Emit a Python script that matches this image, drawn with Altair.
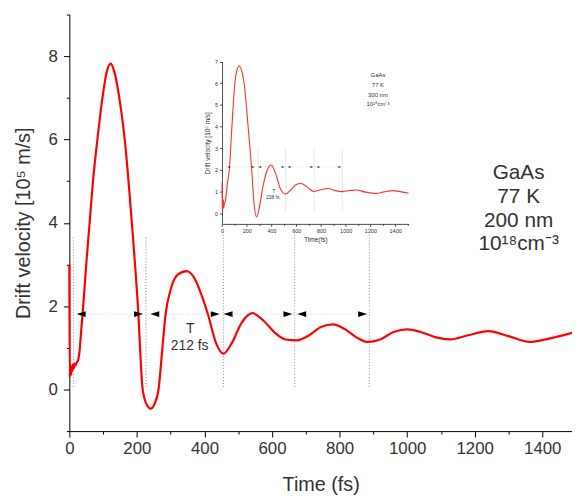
import altair as alt
import pandas as pd

FONT = "Liberation Sans"
TXT = "#333333"

# ---------------- main chart data ----------------
main_t = [0, 1, 3, 5, 7, 9, 11, 13, 16, 19, 22, 26, 30, 34, 39, 41, 50, 60, 70, 83, 98, 110, 122,
          134, 148, 164, 185, 203, 217, 230, 241, 252, 264, 275, 285, 300, 320, 347, 375, 392, 410,
          435, 456, 480, 510, 542, 575, 610, 640, 674, 710, 745, 781, 815, 850, 884, 920, 960,
          1001, 1040, 1085, 1128, 1180, 1240, 1300, 1362, 1420, 1488]
main_v = [3.0, 0.3, 0.6, 0.35, 0.55, 0.45, 0.6, 0.5, 0.62, 0.58, 0.65, 0.7, 0.9, 1.3, 1.81, 2.0, 3.0, 4.0, 5.0, 6.0, 7.0, 7.6, 7.82,
          7.6, 7.0, 6.0, 4.0, 2.0, 0.0, -0.38, -0.46, -0.35, 0.0, 0.95, 1.81, 2.4, 2.75, 2.84, 2.6, 2.25, 1.81,
          1.1, 0.86, 1.1, 1.6, 1.83, 1.65, 1.35, 1.2, 1.18, 1.3, 1.5, 1.56, 1.45, 1.25, 1.14, 1.2, 1.38,
          1.44, 1.38, 1.25, 1.20, 1.3, 1.40, 1.28, 1.14, 1.22, 1.36]

period_lines_t = [12, 227, 456, 667, 888]
period_lines_top = [3.65, 3.65, 3.8, 3.8, 3.8]
period_lines_bottom = [0.06, 0.06, 0.06, 0.06, 0.06]
guide_level = 1.81
arrow_left_t = [35, 253, 470, 688]
arrow_right_t = [205, 432, 647, 868]
period_label = ["T", "212 fs"]
period_label_t = [358, 356]
period_label_v = [1.46, 1.03]
info_lines = ["GaAs", "77 K", "200 nm", "10\u00b9\u2078cm\u207b\u00b3"]
info_t = [1330, 1330, 1330, 1330]
info_v = [5.19, 4.62, 4.05, 3.48]

x_ticks = list(range(0, 1401, 100))
y_ticks = list(range(-1, 10))

# ---------------- inset data ----------------
in_t = [0, 2, 5, 8, 11, 15, 20, 26, 33, 42, 59, 80, 104, 120, 139, 158, 179, 211, 240, 258, 280, 300,
        330, 360, 398, 435, 470, 513, 560, 600, 639, 690, 740, 800, 860, 910, 967, 1030, 1087, 1160,
        1248, 1310, 1381, 1450, 1509]
in_v = [1.4, 0.1, 0.7, 0.2, 0.6, 0.25, 0.5, 0.5, 0.8, 1.3, 2.0, 4.0, 6.0, 6.6, 6.8, 6.6, 6.0, 4.0, 2.0, 0.5, -0.18, 0.2,
        1.2, 1.9, 2.22, 1.8, 1.15, 0.88, 1.1, 1.32, 1.37, 1.2, 1.0, 1.08, 1.14, 1.05, 0.99, 1.04, 1.07, 0.97,
        0.91, 0.98, 1.04, 0.98, 0.92]
in_lines_t = [32, 292, 513, 745, 973]
in_lines_top = [3.2, 3.0, 3.0, 3.0, 3.0]
in_lines_bottom = [0.1, 0.1, 0.1, 0.1, 0.1]
in_guide_level = 2.13
in_arrow_left_t = [54, 304, 542, 775]
in_arrow_right_t = [252, 494, 727, 953]
in_period_label = ["T", "238 fs"]
in_period_label_t = [420, 410]
in_period_label_v = [1.04, 0.72]
in_info_lines = ["GaAs", "77 K", "300 nm", "10\u00b9\u2078cm\u207b\u00b3"]
in_info_t = [1261, 1261, 1261, 1261]
in_info_v = [6.36, 5.91, 5.45, 5.02]
in_x_ticks = list(range(0, 1501, 100))
in_y_ticks = [i / 2 for i in range(0, 15)]

# ---------------- geometry ----------------
W, H = 508, 421
X_MAX = 1488

xs = alt.Scale(domain=[0, X_MAX], nice=False, zero=False)
ys = alt.Scale(domain=[-1, 9], nice=False, zero=False)

x_axis = alt.Axis(
    values=x_ticks, format="d", labelExpr="datum.value % 200 === 0 ? datum.label : ''",
    tickSize={"condition": {"test": "datum.value % 200 === 0", "value": 6}, "value": 3},
    labelOverlap=False, labelFlush=False, grid=False, domainColor="black", tickColor="black",
    labelFont=FONT, labelFontSize=17, labelColor=TXT, labelPadding=4,
    title="Time (fs)", titleFont=FONT, titleFontSize=20, titleFontWeight="normal",
    titleColor=TXT, titlePadding=18, orient="bottom")
y_axis = alt.Axis(
    values=y_ticks, format="d", labelExpr="datum.value % 2 === 0 ? datum.label : ''",
    tickSize={"condition": {"test": "datum.value % 2 === 0", "value": 6}, "value": 3},
    labelOverlap=False, labelFlush=False, grid=False, domainColor="black", tickColor="black",
    labelFont=FONT, labelFontSize=17, labelColor=TXT, labelPadding=6,
    title="Drift velocity [10\u2075 m/s]", titleFont=FONT, titleFontSize=20,
    titleFontWeight="normal", titleColor=TXT, titlePadding=15, orient="left")

main_df = pd.DataFrame({"t": main_t, "v": main_v})
vl_df = pd.DataFrame({"t": period_lines_t, "v": period_lines_bottom, "v2": period_lines_top})
hl_df = pd.DataFrame({"t": [period_lines_t[0]], "t2": [period_lines_t[-1]], "v": [guide_level]})
al_df = pd.DataFrame({"t": arrow_left_t, "v": [guide_level] * len(arrow_left_t)})
ar_df = pd.DataFrame({"t": arrow_right_t, "v": [guide_level] * len(arrow_right_t)})
pl_df = pd.DataFrame({"t": period_label_t, "v": period_label_v, "s": period_label})
info_df = pd.DataFrame({"t": info_t, "v": info_v, "s": info_lines})

X = alt.X("t:Q", scale=xs, axis=x_axis)
Y = alt.Y("v:Q", scale=ys, axis=y_axis)

LEFT_ARROW = "M-1,0L1,-0.65L1,0.65Z"
RIGHT_ARROW = "M1,0L-1,-0.65L-1,0.65Z"

main_layers = [
    alt.Chart(vl_df).mark_rule(color="#8c8c8c", strokeDash=[1, 2], strokeWidth=1).encode(
        x=X, y=Y, y2="v2:Q"),
    alt.Chart(hl_df).mark_rule(color="#d0d0d0", strokeDash=[1, 2], strokeWidth=1).encode(
        x=X, x2="t2:Q", y=Y),
    alt.Chart(main_df).mark_line(color="#ff0000", strokeWidth=2.2, interpolate="monotone").encode(
        x=X, y=Y),
    alt.Chart(al_df).mark_point(shape=LEFT_ARROW, size=81, filled=True, color="black", opacity=1).encode(
        x=X, y=Y),
    alt.Chart(ar_df).mark_point(shape=RIGHT_ARROW, size=81, filled=True, color="black", opacity=1).encode(
        x=X, y=Y),
    alt.Chart(pl_df).mark_text(font=FONT, fontSize=14, color=TXT, baseline="middle").encode(
        x=X, y=Y, text="s:N"),
    alt.Chart(info_df).mark_text(font=FONT, fontSize=21, color=TXT, baseline="middle").encode(
        x=X, y=Y, text="s:N"),
]
main = alt.layer(*main_layers)

# ---------------- inset ----------------
IX0, IX1 = 154.3, 343.0     # inset x range in plot pixels
IY0, IY1 = 211.6, 47.6      # inset y range in plot pixels (bottom, top)

xs_in = alt.Scale(domain=[0, 1510], range=[IX0, IX1], nice=False, zero=False)
ys_in = alt.Scale(domain=[-0.5, 7], range=[IY0, IY1], nice=False, zero=False)

in_x_axis = alt.Axis(
    orient="bottom", offset=-(H - IY0), values=in_x_ticks, format="d",
    labelExpr="datum.value % 200 === 0 ? datum.label : ''",
    tickSize={"condition": {"test": "datum.value % 200 === 0", "value": 2.5}, "value": 1.5},
    labelOverlap=False, labelFlush=False, grid=False, domainColor="#222", tickColor="#222",
    domainWidth=0.8, tickWidth=0.8,
    labelFont=FONT, labelFontSize=5.5, labelColor=TXT, labelPadding=2,
    title="Time(fs)", titleFont=FONT, titleFontSize=6.5, titleFontWeight="normal",
    titleColor=TXT, titlePadding=3)
in_y_axis = alt.Axis(
    orient="left", offset=-IX0, values=in_y_ticks, format="d",
    labelExpr="datum.value % 1 === 0 ? datum.label : ''",
    tickSize={"condition": {"test": "datum.value % 1 === 0", "value": 2.5}, "value": 1.5},
    labelOverlap=False, labelFlush=False, grid=False, domainColor="#222", tickColor="#222",
    domainWidth=0.8, tickWidth=0.8,
    labelFont=FONT, labelFontSize=5.5, labelColor=TXT, labelPadding=2,
    title="Drift velocity [10\u2075 m/s]", titleFont=FONT, titleFontSize=6.5,
    titleFontWeight="normal", titleColor=TXT, titlePadding=4)

XI = alt.X("t:Q", scale=xs_in, axis=in_x_axis)
YI = alt.Y("v:Q", scale=ys_in, axis=in_y_axis)

in_df = pd.DataFrame({"t": in_t, "v": in_v})
in_vl_df = pd.DataFrame({"t": in_lines_t, "v": in_lines_bottom, "v2": in_lines_top})
in_hl_df = pd.DataFrame({"t": [in_lines_t[0]], "t2": [in_lines_t[-1]], "v": [in_guide_level]})
in_al_df = pd.DataFrame({"t": in_arrow_left_t, "v": [in_guide_level] * len(in_arrow_left_t)})
in_ar_df = pd.DataFrame({"t": in_arrow_right_t, "v": [in_guide_level] * len(in_arrow_right_t)})
in_pl_df = pd.DataFrame({"t": in_period_label_t, "v": in_period_label_v, "s": in_period_label})
in_info_df = pd.DataFrame({"t": in_info_t, "v": in_info_v, "s": in_info_lines})

inset_layers = [
    alt.Chart(in_vl_df).mark_rule(color="#c8c8c8", strokeDash=[1, 1], strokeWidth=0.8).encode(
        x=XI, y=YI, y2="v2:Q"),
    alt.Chart(in_hl_df).mark_rule(color="#dddddd", strokeDash=[1, 1], strokeWidth=0.8).encode(
        x=XI, x2="t2:Q", y=YI),
    alt.Chart(in_df).mark_line(color="#ff3030", strokeWidth=1.1, interpolate="monotone").encode(
        x=XI, y=YI),
    alt.Chart(in_al_df).mark_point(shape=LEFT_ARROW, size=9, filled=True, color="#333", opacity=1).encode(
        x=XI, y=YI),
    alt.Chart(in_ar_df).mark_point(shape=RIGHT_ARROW, size=9, filled=True, color="#333", opacity=1).encode(
        x=XI, y=YI),
    alt.Chart(in_pl_df).mark_text(font=FONT, fontSize=5, color=TXT, baseline="middle").encode(
        x=XI, y=YI, text="s:N"),
    alt.Chart(in_info_df).mark_text(font=FONT, fontSize=6, color=TXT, baseline="middle").encode(
        x=XI, y=YI, text="s:N"),
]
inset = alt.layer(*inset_layers)

chart = alt.layer(main, inset).resolve_scale(x="independent", y="independent").properties(
    width=W, height=H, autosize=alt.AutoSizeParams(type="none"),
    padding={"left": 62, "top": 4, "right": 0, "bottom": 64},
    background="white",
).configure_view(stroke=None)

chart.save("out.html", embed_options={"renderer": "svg", "actions": False})
